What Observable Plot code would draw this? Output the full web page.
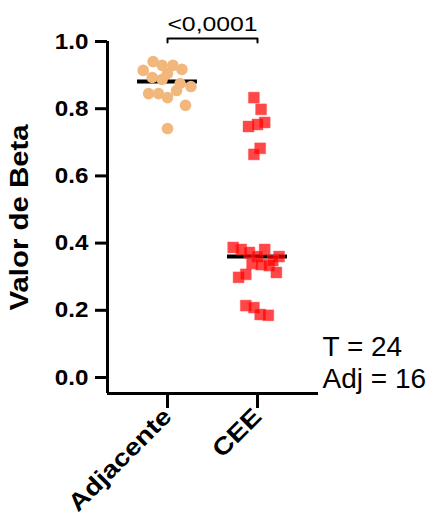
<!DOCTYPE html>
<html><head><meta charset="utf-8">
<script src="https://cdn.jsdelivr.net/npm/d3@7"></script>
<script src="https://cdn.jsdelivr.net/npm/@observablehq/plot@0.6"></script>
<style>
body{margin:0;background:#fff;}
svg{font-family:"Liberation Sans",Arial,sans-serif;}
</style>
</head><body><div id="chart"></div>
<script>
const categories = ["Adjacente", "CEE"];
const adjValues = [0.914, 0.940, 0.929, 0.929, 0.917, 0.893, 0.887, 0.875, 0.866, 0.845, 0.845, 0.833, 0.854, 0.810, 0.741, 0.905];
const adjSpread = [-0.27, -0.16, -0.06, 0.06, 0.16, -0.17, -0.06, 0.14, 0.26, -0.21, -0.10, 0.00, 0.10, 0.20, 0.00, 0.00];
const ceeValues = [0.833, 0.798, 0.747, 0.753, 0.759, 0.682, 0.664, 0.387, 0.381, 0.372, 0.381, 0.360, 0.360, 0.339, 0.336, 0.333, 0.348, 0.3125, 0.298, 0.307, 0.214, 0.208, 0.1875, 0.185];
const ceeSpread = [-0.04, 0.04, -0.10, 0.00, 0.08, 0.03, -0.04, -0.27, -0.18, -0.09, 0.08, 0.24, 0.00, -0.06, 0.04, 0.13, 0.17, 0.21, -0.21, -0.13, -0.13, -0.04, 0.03, 0.12];
const yTicks = [0, 0.2, 0.4, 0.6, 0.8, 1.0];
const yTitle = "Valor de Beta";
const pValue = "<0,0001";
const countLabels = [`T = ${ceeValues.length}`, `Adj = ${adjValues.length}`];

const xMin = -0.667, xMax = 1.678, yMin = -0.0476, yMax = 1;
const adjPts = adjValues.map((v, i) => ({g: 0, v, off: adjSpread[i]}));
const ceePts = ceeValues.map((v, i) => ({g: 1, v, off: ceeSpread[i]}));
const medians = [{g: 0, v: d3.median(adjValues)}, {g: 1, v: d3.median(ceeValues)}];
const brLevel = 1.009, brTip = 0.997;
const bracket = [{x: 0, y: brTip}, {x: 0, y: brLevel}, {x: 1, y: brLevel}, {x: 1, y: brTip}];

const svg = Plot.plot({
  width: 429, height: 519,
  marginLeft: 107, marginRight: 111, marginTop: 41, marginBottom: 126,
  x: {domain: [xMin, xMax]},
  y: {domain: [yMin, yMax]},
  style: {background: "#fff", color: "#000", overflow: "visible"},
  marks: [
    Plot.ruleX([xMin], {y1: yMin, y2: yMax, strokeWidth: 3}),
    Plot.ruleY([yMin], {x1: xMin, x2: xMax, strokeWidth: 3}),
    Plot.axisY(yTicks, {tickSize: 12, tickPadding: 7, tickFormat: d3.format(".1f"), fontSize: 22, fontWeight: "bold", strokeWidth: 3, label: null}),
    Plot.axisX([0, 1], {tickSize: 15, tickPadding: 4, tickRotate: -45, tickFormat: i => categories[i], fontSize: 24, fontWeight: "bold", strokeWidth: 3, label: null}),
    Plot.text([yTitle], {frameAnchor: "bottom-left", textAnchor: "start", dx: -80, dy: -83, rotate: -90, fontSize: 26, fontWeight: "bold"}),
    Plot.ruleY(medians, {y: "v", x1: d => d.g - 0.333, x2: d => d.g + 0.333, strokeWidth: 4, stroke: "#000"}),
    Plot.dot(adjPts, {x: d => d.g + d.off, y: "v", r: 5.8, fill: "#f2b77c", stroke: null}),
    Plot.dot(ceePts, {x: d => d.g + d.off, y: "v", symbol: "square", r: 6.2, fill: "#ff0000", fillOpacity: 0.72, stroke: "#ff5555", strokeOpacity: 0.4, strokeWidth: 1}),
    Plot.line(bracket, {x: "x", y: "y", strokeWidth: 2, stroke: "#000"}),
    Plot.text([pValue], {x: 0.5, y: brLevel, dy: -14, fontSize: 21, lineAnchor: "middle"}),
    Plot.text([countLabels[0]], {frameAnchor: "bottom-right", textAnchor: "start", dx: 4, dy: -46, fontSize: 28, lineAnchor: "middle"}),
    Plot.text([countLabels[1]], {frameAnchor: "bottom-right", textAnchor: "start", dx: 4, dy: -14, fontSize: 28, lineAnchor: "middle"})
  ]
});
document.getElementById("chart").appendChild(svg);

function stretch(nodes, k) {
  nodes.forEach(t => {
    const L = t.getComputedTextLength();
    t.setAttribute("textLength", L * k);
    t.setAttribute("lengthAdjust", "spacingAndGlyphs");
  });
}
stretch(svg.querySelectorAll('g[aria-label="y-axis tick label"] text'), 1.1);
stretch(svg.querySelectorAll('g[aria-label="x-axis tick label"] text'), 1.17);
svg.querySelectorAll('g[aria-label="text"] text').forEach(t => {
  if (t.textContent === yTitle) stretch([t], 1.13);
  else if (t.textContent === pValue) stretch([t], 1.18);
});
</script>
</body></html>
